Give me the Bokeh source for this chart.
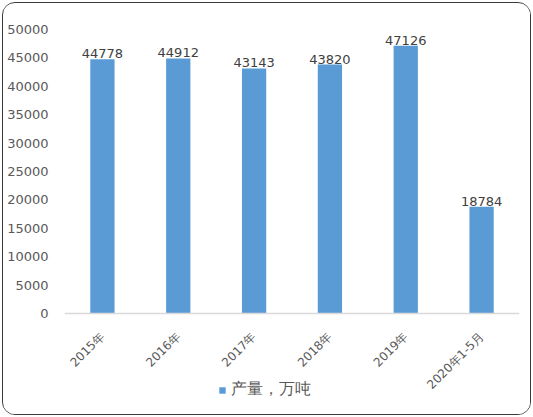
from bokeh.plotting import figure
from bokeh.models import ColumnDataSource, Legend, LegendItem, FixedTicker, NumeralTickFormatter, Span
from bokeh.core.properties import value
from bokeh.embed import file_html
from bokeh.resources import INLINE
import math

categories = ["2015年", "2016年", "2017年", "2018年", "2019年", "2020年1-5月"]
production = [44778, 44912, 43143, 43820, 47126, 18784]
y_ticks = [0, 5000, 10000, 15000, 20000, 25000, 30000, 35000, 40000, 45000, 50000]
series_name = "产量，万吨"

source = ColumnDataSource(dict(cat=categories, val=production,
                               lab=[str(v) for v in production],
                               zero=[0] * len(categories)))

# frame extends below the zero line so the category labels and legend live inside it
y_top = 50000
y_bottom = -y_top * 93 / 284

p = figure(x_range=categories, y_range=(y_bottom, y_top), width=529, height=413,
           output_backend="svg", toolbar_location=None,
           min_border_left=61, min_border_right=13, min_border_top=26, min_border_bottom=10)
p.styles = {"margin-left": "2px", "margin-top": "2px",
            "border": "1.3px solid #3a3a3a", "border-radius": "13px",
            "overflow": "hidden", "box-sizing": "border-box"}
p.outline_line_color = None
p.background_fill_color = "white"
p.border_fill_color = "white"
p.xgrid.grid_line_color = None
p.ygrid.grid_line_color = None
p.xaxis.visible = False

r = p.vbar(x="cat", top="val", width=0.32, source=source,
           fill_color="#5B9BD5", line_color=None)

p.add_layout(Span(location=0, dimension="width", line_color="#D9D9D9", line_width=1.3))

p.text(x="cat", y="val", text="lab", source=source, text_align="center",
       text_baseline="bottom", y_offset=-1, text_color="#404040",
       text_font=value("DejaVu Sans"), text_font_size="13px")

p.text(x="cat", y="zero", text="cat", source=source, angle=math.pi / 4,
       text_align="right", text_baseline="middle", x_offset=0, y_offset=21,
       text_color="#595959", text_font=value("DejaVu Sans"), text_font_size="12px")

p.yaxis.ticker = FixedTicker(ticks=y_ticks)
p.yaxis.formatter = NumeralTickFormatter(format="0")
p.yaxis.axis_line_color = None
p.yaxis.major_tick_line_color = None
p.yaxis.minor_tick_line_color = None
p.yaxis.major_tick_out = 0
p.yaxis.major_tick_in = 0
p.yaxis.major_label_standoff = 16
p.yaxis.major_label_text_font = "DejaVu Sans"
p.yaxis.major_label_text_font_size = "13px"
p.yaxis.major_label_text_color = "#595959"

legend = Legend(items=[LegendItem(label=series_name, renderers=[r])],
                location=(154, 6), orientation="horizontal",
                glyph_width=8, glyph_height=8, padding=0, margin=0,
                label_standoff=5, border_line_color=None, background_fill_alpha=0,
                label_text_font="DejaVu Sans", label_text_font_size="16px",
                label_text_color="#595959")
p.add_layout(legend, "center")

open("out.html", "w").write(file_html(p, INLINE))
